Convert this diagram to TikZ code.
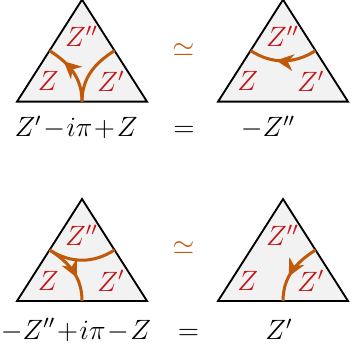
\documentclass[tikz,border=0pt]{standalone}
\usepackage{amsmath,amssymb}
\usepackage{tikz}
\usetikzlibrary{
    arrows.meta,
    decorations.markings
}
\definecolor{cutorange}{HTML}{C05A0A}
\definecolor{labelred}{HTML}{C41418}
\definecolor{facegray}{HTML}{F2F2F2}
\tikzstyle{face}=[
    draw=black,
    fill=facegray,
    thick,
    line join=miter
]
\tikzstyle{corner}=[
    text=labelred,
    inner sep=0pt
]
\tikzstyle{cut}=[
    color=cutorange,
    line width=1.3pt
]
\tikzstyle{relation}=[
    anchor=base,
    inner sep=0pt
]
\tikzset{cutarrow/.style={
    cut,
    postaction={decorate},
    decoration={markings,
        mark=at position #1 with {\arrow{Stealth[length=2.6mm,width=2.5mm,inset=0.8mm]}}}
}}

\begin{document}
\begin{tikzpicture}[every node/.style={font=\fontsize{11.5}{14}\selectfont}]
\useasboundingbox (0,0) rectangle (5.30,5.315);
\medmuskip=1mu

% top left
\begin{scope}[shift={(0.257,3.78)}]
\coordinate (tl-l) at (0,0);
\coordinate (tl-r) at (1.963,0);
\coordinate (tl-t) at (0.9815,1.54);
\coordinate (tl-mb) at (0.9815,0);
\coordinate (tl-ml) at (0.491,0.77);
\coordinate (tl-mr) at (1.472,0.77);
\draw[face] (tl-l) -- (tl-r) -- (tl-t) -- cycle;
\node[corner] (tl-zz) at (0.974,0.99) {$Z''$};
\node[corner] (tl-z) at (0.473,0.305) {$Z$};
\node[corner] (tl-zp) at (1.42,0.305) {$Z'$};
\draw[cutarrow=0.72] (tl-mb) to[out=90,in=-32.5] (tl-ml);
\draw[cut] (tl-mb) to[out=90,in=-147.5] (tl-mr);
\end{scope}

% top right
\begin{scope}[shift={(3.292,3.78)}]
\coordinate (tr-l) at (0,0);
\coordinate (tr-r) at (1.963,0);
\coordinate (tr-t) at (0.9815,1.54);
\coordinate (tr-ml) at (0.491,0.77);
\coordinate (tr-mr) at (1.472,0.77);
\draw[face] (tr-l) -- (tr-r) -- (tr-t) -- cycle;
\node[corner] (tr-zz) at (0.974,0.99) {$Z''$};
\node[corner] (tr-z) at (0.45,0.305) {$Z$};
\node[corner] (tr-zp) at (1.40,0.305) {$Z'$};
\draw[cutarrow=0.6] (tr-mr) to[out=212.5,in=-32.5] (tr-ml);
\end{scope}

% bottom left
\begin{scope}[shift={(0.257,0.77)}]
\coordinate (bl-l) at (0,0);
\coordinate (bl-r) at (1.963,0);
\coordinate (bl-t) at (0.9815,1.54);
\coordinate (bl-mb) at (0.9815,0);
\coordinate (bl-ml) at (0.491,0.77);
\coordinate (bl-mr) at (1.472,0.77);
\draw[face] (bl-l) -- (bl-r) -- (bl-t) -- cycle;
\node[corner] (bl-zz) at (0.974,0.99) {$Z''$};
\node[corner] (bl-z) at (0.473,0.305) {$Z$};
\node[corner] (bl-zp) at (1.42,0.305) {$Z'$};
\draw[cut] (bl-ml) to[out=-32.5,in=212.5] (bl-mr);
\draw[cutarrow=0.62] (bl-ml) to[out=-32.5,in=90] (bl-mb);
\end{scope}

% bottom right
\begin{scope}[shift={(3.292,0.77)}]
\coordinate (br-l) at (0,0);
\coordinate (br-r) at (1.963,0);
\coordinate (br-t) at (0.9815,1.54);
\coordinate (br-mb) at (0.9815,0);
\coordinate (br-mr) at (1.472,0.77);
\draw[face] (br-l) -- (br-r) -- (br-t) -- cycle;
\node[corner] (br-zz) at (0.974,0.99) {$Z''$};
\node[corner] (br-z) at (0.45,0.305) {$Z$};
\node[corner] (br-zp) at (1.40,0.305) {$Z'$};
\draw[cutarrow=0.6] (br-mr) to[out=212.5,in=90] (br-mb);
\end{scope}

% relations
\node[text=cutorange] (simtop) at (2.77,4.56) {$\simeq$};
\node[text=cutorange] (simbot) at (2.77,1.57) {$\simeq$};
\node[relation] (lhstop) at (1.148,3.247) {$Z'-i\pi+Z$};
\node[relation] (eqtop) at (2.778,3.247) {$=$};
\node[relation] (rhstop) at (4.047,3.247) {$-Z''$};
\node[relation] (lhsbot) at (1.148,0.196) {$-Z''+i\pi-Z$};
\node[relation] (eqbot) at (2.846,0.196) {$=$};
\node[relation] (rhsbot) at (4.213,0.19) {$Z'$};
\end{tikzpicture}
\end{document}
